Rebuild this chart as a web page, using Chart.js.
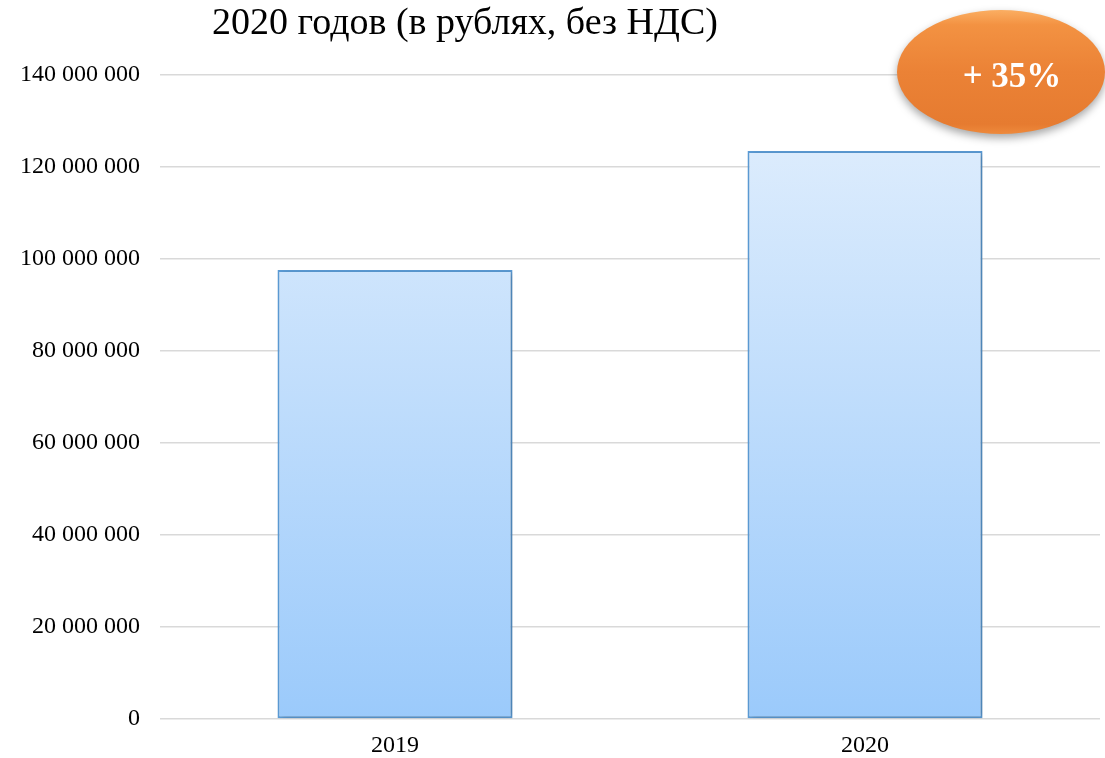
<!DOCTYPE html>
<html lang="ru">
<head>
  <meta charset="utf-8">
  <title>Выручка 2019-2020</title>
  <style>
    html, body { margin: 0; padding: 0; background: #fff; }
    #wrap { width: 1105px; height: 758px; }
  </style>
</head>
<body>
  <div id="wrap"><canvas id="chart" width="1105" height="758"></canvas></div>

  <script src="https://cdn.jsdelivr.net/npm/chart.js@4.4.1/dist/chart.umd.min.js"></script>
  <script>
    // data
    var years = ['2019', '2020'];
    var values = [97600000, 123500000];
    var yTicks = [0, 20000000, 40000000, 60000000, 80000000, 100000000, 120000000, 140000000];
    var titleText = '2020 годов (в рублях, без НДС)';
    var badgeText = '+ 35%';

    var serif = '"Liberation Serif", "Times New Roman", serif';

    function spaced(v) {
      return String(v).replace(/\B(?=(\d{3})+(?!\d))/g, ' ');
    }

    function barFill(ctx) {
      var area = ctx.chart.chartArea;
      if (!area) return '#bcdcfc';
      var g = ctx.chart.ctx.createLinearGradient(0, area.top, 0, area.bottom);
      g.addColorStop(0, '#e4f0fd');
      g.addColorStop(1, '#9bcafb');
      return g;
    }

    // title and "+35%" badge, plus a soft shadow under the bars
    var extras = {
      id: 'extras',
      beforeDatasetsDraw: function(chart) {
        var c = chart.ctx;
        c.save();
        c.shadowColor = 'rgba(0,0,0,0.22)';
        c.shadowBlur = 5;
        c.shadowOffsetX = 2;
        c.shadowOffsetY = 1;
      },
      afterDatasetsDraw: function(chart) {
        chart.ctx.restore();
      },
      afterDraw: function(chart) {
        var c = chart.ctx;
        c.save();
        c.fillStyle = '#000';
        c.font = '38px ' + serif;
        c.textAlign = 'center';
        c.textBaseline = 'alphabetic';
        c.fillText(titleText, 465, 34);

        // badge
        var cx = 1001, cy = 72, rx = 104, ry = 62;
        c.save();
        c.shadowColor = 'rgba(0,0,0,0.35)';
        c.shadowBlur = 9;
        c.shadowOffsetY = 4;
        var g = c.createLinearGradient(0, cy - ry, 0, cy + ry);
        g.addColorStop(0, '#fbae62');
        g.addColorStop(0.12, '#f39242');
        g.addColorStop(0.5, '#eb8236');
        g.addColorStop(0.92, '#e67b30');
        g.addColorStop(1, '#ee8a3c');
        c.fillStyle = g;
        c.beginPath();
        c.ellipse(cx, cy, rx, ry, 0, 0, Math.PI * 2);
        c.fill();
        c.restore();

        c.fillStyle = '#fff';
        c.font = 'bold 35px ' + serif;
        c.textAlign = 'center';
        c.fillText(badgeText, 1012, 87);
        c.restore();
      }
    };

    new Chart(document.getElementById('chart').getContext('2d'), {
      type: 'bar',
      data: {
        labels: years,
        datasets: [{
          data: values,
          backgroundColor: barFill,
          borderColor: '#5b9bd5',
          borderWidth: 2,
          borderSkipped: false,
          barPercentage: 0.5,
          categoryPercentage: 1
        }]
      },
      options: {
        responsive: false,
        animation: false,
        layout: { padding: { top: 75, right: 5, left: 0, bottom: 0 } },
        plugins: {
          legend: { display: false },
          tooltip: { enabled: false }
        },
        scales: {
          x: {
            afterFit: function(scale) { scale.height = 39; },
            grid: { display: false, drawTicks: false },
            border: { display: false },
            ticks: {
              color: '#000',
              padding: 15,
              font: { family: serif, size: 24, lineHeight: 1 }
            }
          },
          y: {
            min: 0,
            max: 140000000,
            afterFit: function(scale) { scale.width = 160; },
            afterBuildTicks: function(scale) {
              scale.ticks = yTicks.map(function(v) { return { value: v }; });
            },
            grid: { color: '#d9d9d9', lineWidth: 1.5, drawTicks: false },
            border: { display: false },
            ticks: {
              color: '#000',
              padding: 20,
              font: { family: serif, size: 24 },
              callback: function(v) { return spaced(v); }
            }
          }
        }
      },
      plugins: [extras]
    });
  </script>
</body>
</html>
